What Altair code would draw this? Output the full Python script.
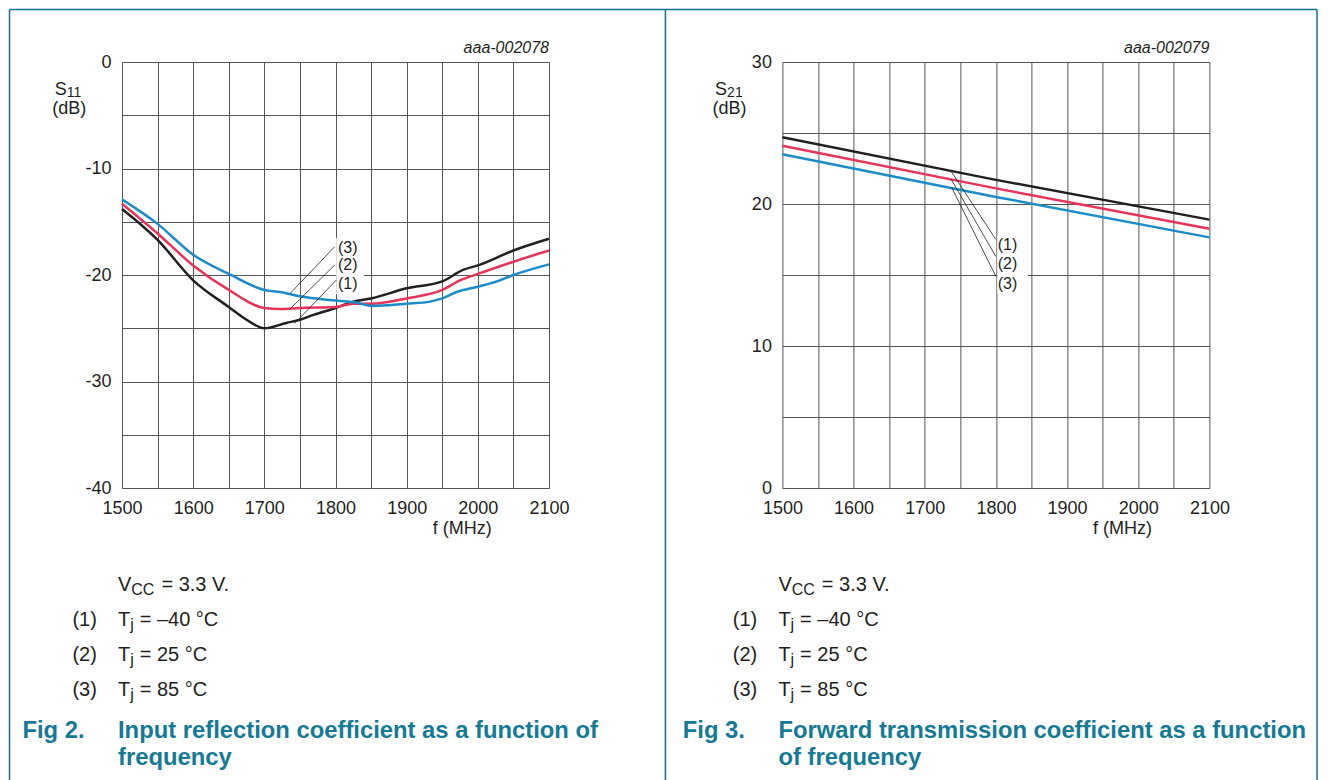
import altair as alt
import pandas as pd

# ---------------- data ----------------
# Fig 2: S11 (dB) vs f (MHz)
s11_f_m40 = [1500, 1550, 1600, 1650, 1675, 1700, 1731, 1750, 1769, 1800, 1825, 1850, 1900, 1950, 1980, 2000, 2050, 2100]
s11_v_m40 = [-13.8, -16.7, -20.5, -23.0, -24.2, -25.0, -24.5, -24.2, -23.75, -23.1, -22.5, -22.2, -21.25, -20.6, -19.5, -19.1, -17.7, -16.6]
s11_f_25 = [1500, 1550, 1600, 1650, 1700, 1722, 1750, 1800, 1825, 1850, 1900, 1950, 1975, 2000, 2050, 2100]
s11_v_25 = [-13.3, -16.1, -19.1, -21.4, -23.1, -23.2, -23.1, -23.0, -22.7, -22.7, -22.2, -21.4, -20.5, -19.9, -18.75, -17.7]
s11_f_85 = [1500, 1550, 1600, 1650, 1700, 1722, 1750, 1800, 1830, 1850, 1900, 1933, 1950, 1970, 2000, 2027, 2050, 2100]
s11_v_85 = [-12.9, -15.2, -18.1, -19.9, -21.4, -21.6, -22.0, -22.4, -22.6, -22.9, -22.7, -22.5, -22.2, -21.6, -21.1, -20.6, -20.0, -19.0]

# Fig 3: S21 (dB) vs f (MHz)
s21_f = [1500, 1800, 2100]
s21_v_m40 = [24.7, 21.7, 18.9]
s21_v_25 = [24.1, 21.1, 18.25]
s21_v_85 = [23.5, 20.5, 17.65]

curve_names = ["(1)", "(2)", "(3)"]
cond_rest = ["= \u201340 \u00b0C", "= 25 \u00b0C", "= 85 \u00b0C"]
x_ticks = list(range(1500, 2101, 50))

# ---------------- style ----------------
FONT = "Liberation Sans"
TXT = "#231f20"
TEAL = "#13718d"
TITLE_TEAL = "#157a95"
GRID = "#555555"
BLACK = "#231f20"
RED = "#e8345a"
BLUE = "#1b8bc9"
W, H = 427, 426


def long_df(pairs):
    rows = []
    for name, fs, vs in pairs:
        for f, v in zip(fs, vs):
            rows.append({"curve": name, "f": f, "v": v})
    return pd.DataFrame(rows)


def one(t):
    return pd.DataFrame({"t": [t]})


def txt(s, x, y, size, align="left", bold=False, italic=False, color=TXT):
    kw = dict(align=align, baseline="alphabetic", fontSize=size, font=FONT, color=color)
    if bold:
        kw["fontWeight"] = "bold"
    if italic:
        kw["fontStyle"] = "italic"
    return alt.Chart(one(s)).mark_text(**kw).encode(
        x=alt.value(x), y=alt.value(y), text="t:N")


def frame_rule(x1, y1, x2, y2):
    return alt.Chart(one("r")).mark_rule(color=TEAL, strokeWidth=1.5).encode(
        x=alt.value(x1), x2=alt.value(x2), y=alt.value(y1), y2=alt.value(y2))


def panel(lines_df, ydom, sym, sub, code, labels_df, leaders_df, box_df,
          fig, title1, title2, interp, extra=()):
    xs = alt.Scale(domain=[1500, 2100], nice=False, zero=False)
    ys = alt.Scale(domain=ydom, nice=False, zero=False)
    common = dict(title=None, ticks=False, domain=False, grid=True,
                  gridColor=GRID, gridWidth=1, gridOpacity=1,
                  labelFontSize=18, labelFont=FONT, labelColor=TXT,
                  labelOverlap=False)
    xax = alt.Axis(values=x_ticks,
                   labelExpr="datum.value % 100 == 0 ? '' + datum.value : ''",
                   labelPadding=11, labelFlush=False, **common)
    yax = alt.Axis(values=list(range(ydom[0], ydom[1] + 1, 5)),
                   labelExpr="datum.value % 10 == 0 ? '' + datum.value : ''",
                   labelPadding=11, **common)

    def X(f):
        return alt.X(f, type="quantitative", scale=xs, axis=xax)

    def Y(f):
        return alt.Y(f, type="quantitative", scale=ys, axis=yax)

    lines = alt.Chart(lines_df).mark_line(strokeWidth=2.5, interpolate=interp).encode(
        x=X("f"), y=Y("v"),
        color=alt.Color("curve:N",
                        scale=alt.Scale(domain=curve_names, range=[BLACK, RED, BLUE]),
                        legend=None),
    )
    box = alt.Chart(box_df).mark_rect(color="white").encode(
        x=X("x0"), x2="x1", y=Y("y0"), y2="y1")
    leaders = alt.Chart(leaders_df).mark_rule(color=TXT, strokeWidth=0.8).encode(
        x=X("x0"), x2="x1", y=Y("y0"), y2="y1")
    labels = alt.Chart(labels_df).mark_text(
        align="left", baseline="middle", fontSize=16, font=FONT, color=TXT).encode(
        x=X("x"), y=Y("y"), text="t:N")

    statics = [
        txt(sym, -67.3, 32.5, 18),
        txt(sub, -55.3, 34.5, 14),
        txt("(dB)", -52.8, 51.5, 18, align="center"),
        txt(code, 427, -9, 16, align="right", italic=True),
        txt("f (MHz)", 310.7, 472, 18),
        txt("V", -4, 529, 20),
        txt("CC", 9.3, 532.5, 16),
        txt("= 3.3 V.", 39.4, 529, 20),
    ]
    for k in range(3):
        by = 564 + 35 * k
        statics += [
            txt(curve_names[k], -49.6, by, 20),
            txt("T", -4, by, 20),
            txt("j", 8.2, by + 3.5, 16),
            txt(cond_rest[k], 17.7, by, 20),
        ]
    statics += [
        txt(fig, -99.6, 675.5, 23.8, bold=True, color=TITLE_TEAL),
        txt(title1, -4, 675.5, 23.8, bold=True, color=TITLE_TEAL),
        txt(title2, -4, 703, 23.8, bold=True, color=TITLE_TEAL),
    ]
    return alt.layer(lines, box, leaders, labels, *statics, *extra).properties(
        width=W, height=H)


# ---------------- Fig 2 ----------------
s11_df = long_df([("(1)", s11_f_m40, s11_v_m40),
                  ("(2)", s11_f_25, s11_v_25),
                  ("(3)", s11_f_85, s11_v_85)])
s11_labels = pd.DataFrame({"t": ["(3)", "(2)", "(1)"],
                           "x": [1803.5, 1803.5, 1803.5],
                           "y": [-17.46, -19.1, -20.85]})
s11_leaders = pd.DataFrame({"x0": [1735.6, 1735.6, 1742.7],
                            "y0": [-21.78, -23.22, -24.54],
                            "x1": [1798.9, 1798.9, 1801.2],
                            "y1": [-17.34, -19.06, -20.47]})
s11_box = pd.DataFrame({"x0": [1801], "x1": [1840], "y0": [-16.5], "y1": [-21.8]})

# page frame (kept within the 1312 px wide page body so the SVG is not rescaled)
frame = [
    frame_rule(-112.5, -52.5, 1195, -52.5),
    frame_rule(-112.5, -52.5, -112.5, 718),
    frame_rule(543.4, -52.5, 543.4, 718),
    frame_rule(1195, -52.5, 1195, 718),
]

left = panel(s11_df, [-40, 0], "S", "11", "aaa-002078",
             s11_labels, s11_leaders, s11_box,
             "Fig 2.", "Input reflection coefficient as a function of", "frequency",
             "monotone", extra=frame)

# ---------------- Fig 3 ----------------
s21_df = long_df([("(1)", s21_f, s21_v_m40),
                  ("(2)", s21_f, s21_v_25),
                  ("(3)", s21_f, s21_v_85)])
s21_labels = pd.DataFrame({"t": ["(1)", "(2)", "(3)"],
                           "x": [1802.5, 1802.5, 1802.5],
                           "y": [17.08, 15.74, 14.40]})
s21_leaders = pd.DataFrame({"x0": [1737, 1737, 1738],
                            "y0": [22.3, 21.75, 21.15],
                            "x1": [1800, 1800, 1800],
                            "y1": [17.5, 16.3, 14.9]})
s21_box = pd.DataFrame({"x0": [1802], "x1": [1845], "y0": [17.8], "y1": [13.7]})

right = panel(s21_df, [0, 30], "S", "21", "aaa-002079",
              s21_labels, s21_leaders, s21_box,
              "Fig 3.", "Forward transmission coefficient as a function", "of frequency",
              "linear")

chart = alt.hconcat(left, right, spacing=233.4, bounds="flush").properties(
    padding=0
).configure_view(stroke="transparent")

chart.save("out.html", embed_options={"renderer": "svg", "actions": False})
